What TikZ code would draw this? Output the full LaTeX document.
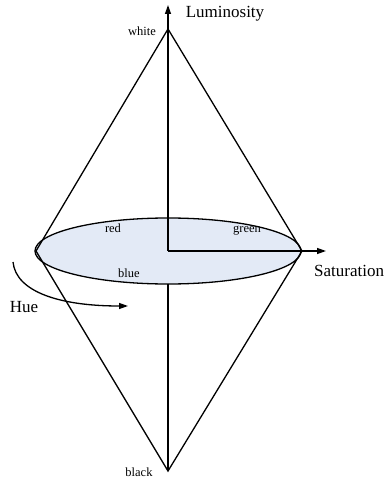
\documentclass[tikz,border=0pt]{standalone}
\usepackage{fontspec}
\setmainfont{Liberation Serif}
\usetikzlibrary{arrows.meta}
\definecolor{discfill}{HTML}{E3EAF6}
\tikzset{
  edge/.style={line width=1.3pt, black},
  arr/.style={edge, -{Triangle[length=9pt,width=6pt]}},
  biglbl/.style={font=\fontsize{17}{17}\selectfont, inner sep=0pt},
  smalllbl/.style={font=\fontsize{12.5}{12.5}\selectfont, inner sep=0pt}
}
\begin{document}
\begin{tikzpicture}[x=1pt,y=-1pt]
\useasboundingbox (0,0) rectangle (387,478);
\coordinate (W) at (168,29);
\coordinate (B) at (168,471);
\coordinate (C) at (168,251);
\coordinate (L) at (36,251);
\coordinate (R) at (302,251);
\coordinate (Bot) at (168,284);
\coordinate (LumTip) at (168,5);
\coordinate (SatTip) at (326,251);
\coordinate (HueStart) at (13,262);
\coordinate (HueTip) at (128,306);
% disc
\draw[edge, fill=discfill] (C) ellipse [x radius=133, y radius=33];
% cone
\draw[edge, line join=miter] (L) -- (W) -- (R);
\draw[edge, line join=miter] (L) -- (B) -- (R);
% axes
\draw[edge] (W) -- (C);
\draw[arr] (C) -- (SatTip);
\draw[edge] (Bot) -- (B);
\draw[arr] (W) -- (LumTip);
% hue arc
\draw[arr] (HueStart) .. controls (16,292) and (60,306) .. (HueTip);
% labels
\node[biglbl] (lum) at (225,14) {Luminosity};
\node[biglbl, anchor=west] (sat) at (314,271) {Saturation};
\node[biglbl] (hue) at (24,307) {Hue};
\node[smalllbl] (white) at (142,31) {white};
\node[smalllbl] (black) at (139,472) {black};
\node[smalllbl] (red) at (113,228) {red};
\node[smalllbl] (green) at (247,231) {green};
\node[smalllbl] (blue) at (129,273) {blue};
\end{tikzpicture}
\end{document}
